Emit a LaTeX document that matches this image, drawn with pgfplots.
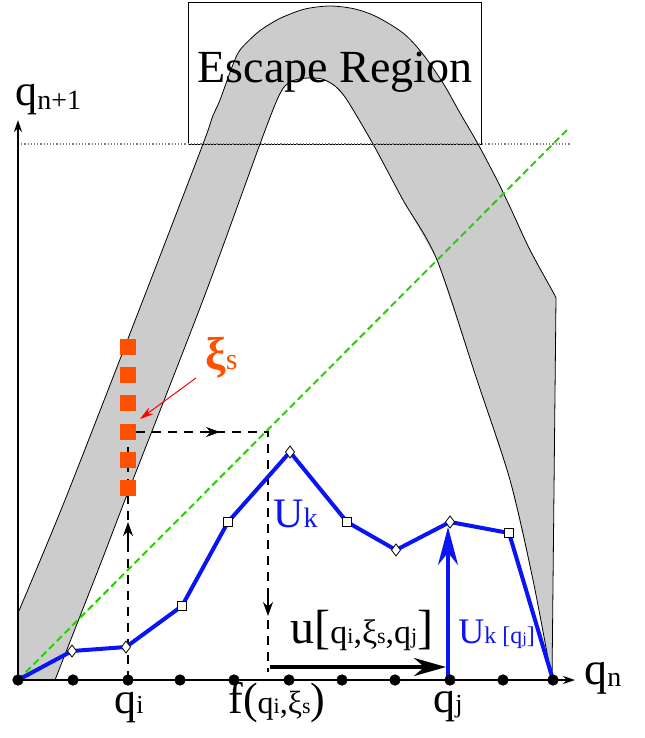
\documentclass[border=0pt]{standalone}
\usepackage{fontspec}
\setmainfont{Liberation Serif}
\usepackage{pgfplots}
\pgfplotsset{compat=1.18}
\usetikzlibrary{arrows.meta}
\definecolor{bandgray}{RGB}{204,204,204}
\definecolor{diaggreen}{RGB}{40,210,0}
\definecolor{xiorange}{RGB}{255,80,0}
\definecolor{ublue}{RGB}{10,20,245}
\newcommand\fs[2]{{\fontsize{#1}{#1}\selectfont #2}}

\begin{document}
\begin{tikzpicture}
% coordinates are in pixels of the sketch, y counted downwards
\begin{axis}[scale only axis, width=322pt, height=369pt,
             xmin=0, xmax=644, ymin=0, ymax=738, y dir=reverse,
             hide axis, clip=false]

\addplot[draw=none, forget plot] coordinates {(0,0) (644,738)};

% the band
\addplot[fill=bandgray, draw=none] coordinates {
  (18,680) (18,613) (65,500) (143,300) (203,144) (212,118) (220,100) (232,67)
  (240,50) (257,33) (270,24) (283,17) (305,9) (330,6) (355,9) (377,17)
  (403,33) (422,53) (443,83) (460,113) (478,144) (497,180) (510,207)
  (530,250) (553,292) (556,298) (552,680)
  (533,580) (510,480) (477,380) (437,260) (403,200) (373,144) (347,100)
  (335,86) (322,79) (308,78) (295,80) (285,86) (277,100) (260,144)
  (203,300) (125,500) (102,560) (55,680)
} -- cycle;
% its outline, outer and inner
\addplot[black, line width=0.4pt, smooth, tension=0.5] coordinates {
  (18,613) (65,500) (143,300) (203,144) (212,118) (220,100) (232,67)
  (240,50) (257,33) (270,24) (283,17) (305,9) (330,6) (355,9) (377,17)
  (403,33) (422,53) (443,83) (460,113) (478,144) (497,180) (510,207)
  (530,250) (553,292) (556,298)};
\addplot[black, line width=0.4pt] coordinates {(556,298) (552,680)};
\addplot[black, line width=0.4pt, smooth, tension=0.5] coordinates {
  (552,680) (533,580) (510,480) (477,380) (437,260) (403,200) (373,144) (347,100)
  (335,86) (322,79) (308,78) (295,80) (285,86) (277,100) (260,144)
  (203,300) (125,500) (102,560) (55,680)};

% escape region box and its level
\addplot[black, line width=0.5pt] coordinates {(188,3) (481,3) (481,144) (188,144)} -- cycle;
\addplot[gray, densely dotted, line width=0.6pt] coordinates {(18,144) (570,144)};

% diagonal
\addplot[diaggreen, line width=1pt, dash pattern=on 3.5pt off 2pt] coordinates {(18,680) (567,130)};

% dashed path
\addplot[black, line width=0.8pt, dash pattern=on 4.5pt off 3.5pt] coordinates {(128,680) (128,432) (268,432) (268,672)};
\addplot[black, line width=0.8pt, -{Stealth[length=7pt,width=5pt]}] coordinates {(128,545) (128,522)};
\addplot[black, line width=0.8pt, -{Stealth[length=7pt,width=5pt]}] coordinates {(200,432) (220,432)};
\addplot[black, line width=0.8pt, -{Stealth[length=7pt,width=5pt]}] coordinates {(268,595) (268,616)};

% U_k
\addplot[ublue, line width=2pt] coordinates {
  (18,680) (72,651) (126,647) (182,606) (228,522) (290,452)
  (347,522) (396,550) (450,522) (509,533) (553,680)};
\addplot[only marks, mark=diamond*, mark size=3pt, mark options={fill=white, draw=black, line width=0.4pt}]
  coordinates {(72,651) (126,647) (290,452) (396,550) (450,522)};
\addplot[only marks, mark=square*, mark size=2.2pt, mark options={fill=white, draw=black, line width=0.4pt}]
  coordinates {(182,606) (228,522) (347,522) (509,533)};

% xi_s samples
\addplot[only marks, mark=square*, mark size=3.6pt, mark options={fill=xiorange, draw=xiorange}]
  coordinates {(128,347) (128,375) (128,403) (128,432) (128,460) (128,488)};
\addplot[red, line width=0.5pt, -{Stealth[length=7pt,width=4pt]}] coordinates {(196,378) (140,419)};

% arrows u and U_k[q_j]
\addplot[black, line width=2pt, -{Stealth[length=16pt,width=9pt]}] coordinates {(270,667) (446,667)};
\addplot[ublue, line width=2pt, -{Stealth[length=19pt,width=10pt]}] coordinates {(448,680) (448,527)};

% coordinate axes
\addplot[black, line width=1.3pt, -{Stealth[length=6pt,width=4pt]}] coordinates {(18,680) (575,680)};
\addplot[black, line width=1.3pt, -{Stealth[length=6pt,width=4pt]}] coordinates {(18,680) (18,120)};
\addplot[only marks, mark=*, mark size=2.6pt, black]
  coordinates {(18,680) (73,680) (128,680) (180,680) (234,680) (289,680)
               (342,680) (395,680) (450,680) (503,680) (553,680)};

% labels
\node[anchor=base] at (axis cs:335,83) {\fs{23}{Escape Region}};
\node[anchor=base west, inner sep=0pt] at (axis cs:15,105) {\fs{22}{q}\raisebox{-2pt}{\fs{14}{n+1}}};
\node[anchor=base west, inner sep=0pt] at (axis cs:584,684) {\fs{23}{q}\raisebox{-1pt}{\fs{14}{n}}};
\node[anchor=base west, inner sep=0pt] at (axis cs:114,713) {\fs{22}{q}\fs{13}{i}};
\node[anchor=base west, inner sep=0pt] at (axis cs:228,713) {\fs{22}{f(}\fs{16}{q}\fs{11}{i}\fs{16}{,ξ}\fs{11}{s}\fs{22}{)}};
\node[anchor=base west, inner sep=0pt] at (axis cs:433,712) {\fs{22}{q}\fs{13}{j}};
\node[anchor=base west, inner sep=0pt] at (axis cs:290,643) {\fs{24}{u[}\fs{17}{q}\fs{11}{i}\fs{17}{,ξ}\fs{11}{s}\fs{17}{,q}\fs{11}{j}\fs{24}{]}};
\node[anchor=base west, inner sep=0pt, text=ublue] at (axis cs:273,527) {\fs{21}{U}\fs{14}{k}};
\node[anchor=base west, inner sep=0pt, text=ublue] at (axis cs:458,643) {\fs{18}{U}\fs{12}{k [q}\fs{8}{j}\fs{12}{]}};
\node[anchor=base west, inner sep=0pt, text=xiorange] at (axis cs:205,369) {\fs{23}{\bfseries ξ}\fs{15}{s}};

\end{axis}
\end{tikzpicture}
\end{document}
